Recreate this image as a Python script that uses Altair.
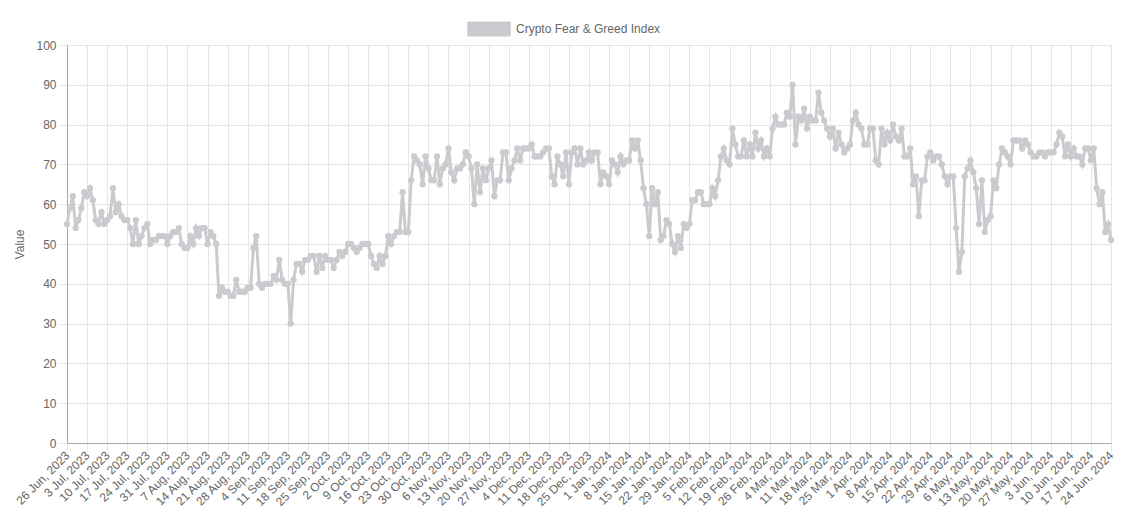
import altair as alt
import pandas as pd

# Daily index values, 26 Jun 2023 .. 24 Jun 2024
values = [
    55, 59, 62, 54, 56, 59, 63,   # 26 Jun
    62, 64, 61, 56, 55, 58, 55,   # 3 Jul
    56, 57, 64, 58, 60, 57, 56,   # 10 Jul
    56, 54, 50, 56, 50, 52, 54,   # 17 Jul
    55, 50, 51, 51, 52, 52, 52,   # 24 Jul
    50, 52, 53, 53, 54, 50, 49,   # 31 Jul
    49, 52, 50, 54, 52, 54, 54,   # 7 Aug
    50, 53, 52, 50, 37, 39, 38,   # 14 Aug
    38, 37, 37, 41, 38, 38, 38,   # 21 Aug
    39, 39, 49, 52, 40, 39, 40,   # 28 Aug
    40, 40, 42, 41, 46, 41, 40,   # 4 Sep
    40, 30, 41, 45, 45, 43, 46,   # 11 Sep
    46, 47, 47, 43, 47, 44, 47,   # 18 Sep
    46, 46, 44, 46, 48, 47, 48,   # 25 Sep
    50, 50, 49, 48, 49, 50, 50,   # 2 Oct
    50, 47, 45, 44, 47, 45, 47,   # 9 Oct
    52, 50, 52, 53, 53, 63, 53,   # 16 Oct
    53, 66, 72, 71, 70, 65, 72,   # 23 Oct
    69, 66, 66, 72, 65, 69, 70,   # 30 Oct
    74, 68, 66, 69, 69, 70, 73,   # 6 Nov
    72, 69, 60, 70, 63, 69, 66,   # 13 Nov
    69, 71, 62, 66, 66, 73, 73,   # 20 Nov
    66, 69, 71, 74, 71, 74, 74,   # 27 Nov
    74, 75, 72, 72, 72, 73, 74,   # 4 Dec
    74, 67, 65, 72, 70, 67, 73,   # 11 Dec
    65, 73, 74, 70, 74, 70, 71,   # 18 Dec
    73, 71, 73, 73, 65, 68, 67,   # 25 Dec
    65, 71, 70, 68, 72, 70, 71,   # 1 Jan
    71, 76, 74, 76, 71, 64, 60,   # 8 Jan
    52, 64, 60, 63, 51, 52, 56,   # 15 Jan
    55, 50, 48, 52, 49, 55, 54,   # 22 Jan
    55, 61, 61, 63, 63, 60, 60,   # 29 Jan
    60, 64, 62, 66, 72, 74, 71,   # 5 Feb
    70, 79, 75, 72, 72, 76, 72,   # 12 Feb
    75, 72, 78, 74, 76, 72, 74,   # 19 Feb
    72, 79, 82, 80, 80, 80, 83,   # 26 Feb
    82, 90, 75, 82, 81, 84, 79,   # 4 Mar
    82, 81, 81, 88, 83, 81, 79,   # 11 Mar
    77, 79, 74, 78, 75, 73, 74,   # 18 Mar
    75, 81, 83, 80, 79, 75, 75,   # 25 Mar
    79, 79, 71, 70, 79, 75, 78,   # 1 Apr
    76, 80, 77, 76, 79, 72, 72,   # 8 Apr
    74, 65, 67, 57, 66, 66, 72,   # 15 Apr
    73, 71, 72, 72, 70, 67, 65,   # 22 Apr
    67, 67, 54, 43, 48, 67, 69,   # 29 Apr
    71, 68, 64, 55, 66, 53, 56,   # 6 May
    57, 66, 64, 70, 74, 73, 72,   # 13 May
    70, 76, 76, 76, 74, 76, 75,   # 20 May
    73, 72, 72, 73, 73, 72, 73,   # 27 May
    73, 73, 75, 78, 77, 72, 75,   # 3 Jun
    72, 74, 72, 72, 70, 74, 74,   # 10 Jun
    71, 74, 64, 60, 63, 53, 55,   # 17 Jun
    51,                           # 24 Jun
]

series_name = "Crypto Fear & Greed Index"
start_date = "2023-06-26"
dates = pd.date_range(start_date, periods=len(values), freq="D")

# weekly tick positions (every Monday)
tick_dates = [alt.DateTime(year=d.year, month=d.month, date=d.day) for d in dates[::7]]
y_ticks = [0, 10, 20, 30, 40, 50, 60, 70, 80, 90, 100]

df = pd.DataFrame({"date": dates, "value": values, "series": series_name})

GRAY = "#c9cbcf"
TXT = "#666666"
FONT = "Liberation Sans"

x_enc = alt.X(
    "date:T",
    scale=alt.Scale(
        domain=[alt.DateTime(year=2023, month=6, date=26), alt.DateTime(year=2024, month=6, date=24)],
        nice=False,
    ),
    axis=alt.Axis(
        values=tick_dates,
        format="%-d %b, %Y",
        labelAngle=-45,
        labelAlign="right",
        labelBaseline="middle",
        labelOverlap=False,
        labelFlush=False,
        labelPadding=2,
        tickSize=8,
        title=None,
    ),
)
y_enc = alt.Y(
    "value:Q",
    scale=alt.Scale(domain=[0, 100], nice=False),
    axis=alt.Axis(values=y_ticks, title="Value", tickSize=8, labelPadding=3, titlePadding=9),
)

line = alt.Chart(df).mark_line(strokeWidth=3, color=GRAY).encode(
    x=x_enc,
    y=y_enc,
    color=alt.Color(
        "series:N",
        scale=alt.Scale(range=[GRAY]),
        legend=alt.Legend(
            title=None,
            orient="none",
            legendX=400,
            legendY=-38,
            symbolType="M-1,-0.33L1,-0.33L1,0.33L-1,0.33Z",
            symbolSize=1800,
            symbolFillColor=GRAY,
            symbolStrokeColor=GRAY,
            symbolStrokeWidth=1,
            symbolOpacity=1,
            labelFont=FONT,
            labelFontSize=12,
            labelColor=TXT,
            labelOffset=5,
        ),
    ),
)
points = alt.Chart(df).mark_circle(size=40, opacity=1, color=GRAY).encode(x=x_enc, y=y_enc)

chart = (
    alt.layer(line, points)
    .properties(
        width=1044,
        height=398,
        autosize=alt.AutoSizeParams(type="none"),
        padding={"left": 59, "top": 37, "right": 8, "bottom": 75},
        background="white",
    )
    .configure_view(strokeWidth=0)
    .configure_axis(
        labelFont=FONT,
        labelFontSize=12,
        labelColor=TXT,
        titleFont=FONT,
        titleFontSize=12,
        titleColor=TXT,
        titleFontWeight="normal",
        gridColor="#e5e5e5",
        tickColor="#e5e5e5",
        domainColor="#a8a8a8",
    )
)

chart.save("out.html", embed_options={"renderer": "svg", "actions": False})
